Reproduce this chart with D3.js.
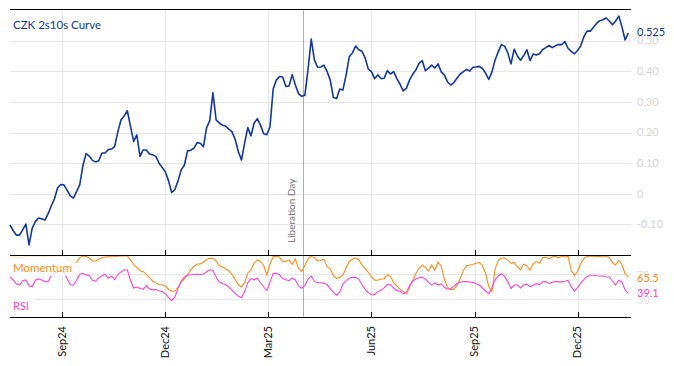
<!DOCTYPE html>
<html>
<head>
<meta charset="utf-8">
<script src="https://cdn.jsdelivr.net/npm/d3@7"></script>
<style>
  body { margin: 0; background: #fff; }
  svg { display: block; font-family: Lato, "Open Sans", sans-serif; }
</style>
</head>
<body>
<svg id="chart" width="674" height="366"></svg>
<script>
// observations every 2 business days, starting here
const startDate = "2024-07-17";
const obsStep = 2;

const curve = [
  -0.102, -0.120, -0.135, -0.135, -0.118, -0.099, -0.167, -0.113, -0.091, -0.079,
  -0.082, -0.086, -0.066, -0.040, -0.017, 0.019, 0.030, 0.029, 0.012, -0.007,
  -0.014, 0.007, 0.030, 0.092, 0.131, 0.123, 0.109, 0.104, 0.108, 0.133,
  0.133, 0.144, 0.146, 0.154, 0.202, 0.241, 0.254, 0.271, 0.220, 0.171,
  0.192, 0.122, 0.143, 0.143, 0.130, 0.127, 0.122, 0.100, 0.086, 0.071,
  0.042, 0.004, 0.014, 0.042, 0.078, 0.094, 0.140, 0.142, 0.149, 0.167,
  0.165, 0.154, 0.215, 0.239, 0.330, 0.241, 0.231, 0.224, 0.221, 0.211,
  0.203, 0.178, 0.138, 0.110, 0.166, 0.216, 0.189, 0.231, 0.245, 0.224,
  0.196, 0.193, 0.219, 0.342, 0.371, 0.383, 0.381, 0.350, 0.352, 0.389,
  0.355, 0.327, 0.318, 0.322, 0.407, 0.505, 0.437, 0.413, 0.414, 0.420,
  0.399, 0.371, 0.314, 0.311, 0.342, 0.339, 0.388, 0.447, 0.460, 0.482,
  0.470, 0.465, 0.444, 0.407, 0.399, 0.376, 0.388, 0.376, 0.377, 0.402,
  0.391, 0.399, 0.376, 0.358, 0.336, 0.344, 0.371, 0.390, 0.404, 0.426,
  0.435, 0.402, 0.410, 0.420, 0.411, 0.424, 0.398, 0.388, 0.365, 0.355,
  0.363, 0.378, 0.391, 0.399, 0.406, 0.401, 0.413, 0.414, 0.416, 0.409,
  0.394, 0.373, 0.398, 0.437, 0.464, 0.487, 0.482, 0.460, 0.424, 0.472,
  0.450, 0.436, 0.451, 0.470, 0.435, 0.456, 0.453, 0.457, 0.471, 0.477,
  0.484, 0.477, 0.483, 0.487, 0.487, 0.497, 0.475, 0.465, 0.457, 0.468,
  0.483, 0.513, 0.531, 0.531, 0.544, 0.556, 0.565, 0.568, 0.574, 0.564,
  0.552, 0.564, 0.580, 0.545, 0.502, 0.525
];

const momentum = [
  98.4, 98.4, 97.6, 95.6, 97.2, 99, 100, 99.7, 98.7, 100,
  100, 98.4, 100, 100, 100, 100, 100, 98.4, 96.4, 93.6,
  89.3, 89.4, 97.4, 100, 99.4, 96.7, 91.9, 91.9, 94.8, 97.1,
  98.4, 98.9, 98.9, 99.2, 99.7, 100, 100, 100, 94.2, 86.1,
  81.1, 76, 74.5, 70, 64.6, 59.4, 56.3, 53.6, 52.9, 51.4,
  46, 42.6, 43.1, 49.1, 57.6, 62.6, 69.8, 77.6, 83, 87,
  87, 89.8, 94.2, 96.2, 96.2, 91.9, 84.6, 82.1, 79.3, 76,
  70, 61.8, 53.6, 49.6, 56.7, 72.4, 77.3, 88.6, 93.6, 91.2,
  84.6, 69.2, 87, 99, 99.5, 98.1, 91.1, 91.1, 93.6, 86.5,
  95.1, 79.8, 74.7, 84.8, 95.1, 99.4, 97.1, 91.9, 92.6, 94.5,
  83, 78.8, 68.3, 63.7, 65, 69.2, 80.5, 91.1, 95.1, 96.7,
  93.9, 85.6, 79.8, 73.5, 65.9, 60.7, 60.5, 62.6, 63.1, 69.5,
  66.5, 56.7, 51.6, 45.7, 42.5, 38.7, 48.8, 59.4, 71.5, 80.5,
  84.9, 81.8, 75.6, 85.1, 77.3, 90.3, 83, 62.6, 48.8, 44.8,
  46.1, 52.6, 63.9, 76.6, 84.3, 85.4, 86.1, 88.1, 89.4, 84.6,
  71.9, 50, 42, 78.3, 93.2, 96.7, 96.7, 93.4, 88.1, 89.6,
  82.5, 77.6, 86.5, 84.1, 77.3, 87.3, 91.2, 87.8, 97.1, 98.2,
  95.8, 98.7, 99.5, 97.1, 99.9, 98.4, 99.2, 77.3, 68, 75.1,
  87.5, 96.1, 99, 99.9, 98.9, 99.2, 99.5, 98.4, 100, 97.6,
  89.4, 85.4, 92.7, 86.2, 70.7, 65.5
];

const rsi = [
  65.9, 61, 55, 52.8, 59.8, 61, 51.7, 49.9, 60.5, 62.8,
  61, 58.4, 58.2, 67.5, 72, 75, 76.7, 72.8, 62.9, 53.2,
  52.5, 60.7, 69.9, 71.9, 68.9, 68.8, 60.3, 59.2, 64.4, 68,
  70.6, 63.7, 67.2, 61.8, 69.8, 74.1, 77.2, 77.2, 60.2, 48,
  49.6, 47.5, 45.9, 52, 46.5, 45, 45.4, 43.4, 42.3, 38.9,
  32.7, 27.5, 33, 47.8, 59.3, 65.9, 69.1, 69.1, 69.8, 70.6,
  69.6, 70.7, 74.3, 77.7, 76.6, 65.9, 57.6, 55.3, 53.5, 49.6,
  44.4, 39.2, 34.5, 32, 42.1, 56.7, 63.3, 61.3, 63.9, 56.1,
  49.6, 43.9, 57.6, 71.4, 71.9, 69.4, 63.3, 61.5, 59.8, 64.2,
  61, 51.5, 47.5, 51.9, 62.6, 67.3, 58.7, 56.6, 56.6, 55.9,
  53.2, 46.8, 41, 36.3, 41.5, 54.3, 60, 63.7, 65.5, 64.9,
  62.4, 53.7, 45.7, 40.5, 37.1, 37.1, 42.1, 44.1, 48.6, 53.8,
  53, 48, 43.7, 42.6, 38.9, 40.8, 52, 59.3, 62.6, 64.7,
  65.4, 62.6, 57.1, 52.7, 56.4, 52.8, 54.6, 49.1, 45.9, 46.7,
  51.1, 55.3, 57.7, 58.5, 58.4, 57.7, 57.1, 55.4, 52.8, 48,
  43.1, 38.7, 48.8, 61.6, 67.5, 71.2, 66.3, 58.4, 47.2, 52.8,
  52.8, 48, 52.8, 54.3, 49.8, 52.4, 55, 53.5, 58, 58.4,
  55.4, 57.1, 58.9, 58, 58, 58.9, 60.5, 50.1, 42.8, 48.6,
  56.1, 61.6, 66.7, 68.6, 68.6, 67.8, 67.5, 67.5, 66.2, 65.9,
  59.3, 52.8, 60.5, 57.4, 44.7, 39.1
];

const curveTicks = [-0.1, 0, 0.1, 0.2, 0.3, 0.4, 0.5];
const oscTicks = [30, 70];
const monthTicks = ["2024-09", "2024-12", "2025-03", "2025-06", "2025-09", "2025-12"];
const events = [{ date: "2025-04-02", label: "Liberation Day" }];

const BLUE = "#1238a0", ORANGE = "#ff8c1a", PINK = "#ff45d6";

function parseDay(s) {
  const p = s.split("-").map(Number);
  return new Date(Date.UTC(p[0], p[1] - 1, p[2] || 1));
}
function isWeekday(d) {
  const w = d.getUTCDay();
  return w !== 0 && w !== 6;
}
// number of business days between the first observation and a date
function bdIndex(s) {
  const end = parseDay(s);
  let d = parseDay(startDate), n = 0;
  while (d < end) {
    if (isWeekday(d)) n++;
    d = new Date(d.getTime() + 864e5);
  }
  return n;
}

const svg = d3.select("#chart");
const left = 10, right = 631;
const mainTop = 9.5, mainBottom = 255, subBottom = 317;

const x = d3.scaleLinear().domain([0, (curve.length - 1) * obsStep]).range([left, 628.3]);
const y = d3.scaleLinear().domain([-0.2, 0.6]).range([mainBottom, 10]);
const y2 = d3.scaleLinear().domain([0, 100]).range([317.5, 256]);

const toPts = arr => arr.map((v, i) => ({ t: i * obsStep, v }));
const fmtMonth = d3.utcFormat("%b%y");
const monthPos = monthTicks.map(m => ({ x: x(bdIndex(m)), label: fmtMonth(parseDay(m)) }));

// grid
svg.append("g").selectAll("line").data(curveTicks).join("line")
  .attr("x1", left).attr("x2", right)
  .attr("y1", d => Math.round(y(d)) + 0.5).attr("y2", d => Math.round(y(d)) + 0.5)
  .attr("stroke", "#e6e6e6");
svg.append("g").selectAll("line").data(oscTicks).join("line")
  .attr("x1", left).attr("x2", right)
  .attr("y1", d => Math.round(y2(d)) + 0.5).attr("y2", d => Math.round(y2(d)) + 0.5)
  .attr("stroke", "#e6e6e6");
svg.append("g").selectAll("line").data(monthPos).join("line")
  .attr("x1", d => Math.round(d.x) + 0.5).attr("x2", d => Math.round(d.x) + 0.5)
  .attr("y1", mainTop).attr("y2", subBottom)
  .attr("stroke", "#e6e6e6");

// event marker
events.forEach(e => {
  const ex = Math.round(x(bdIndex(e.date))) + 0.5;
  svg.append("line").attr("x1", ex).attr("x2", ex).attr("y1", mainTop).attr("y2", subBottom)
    .attr("stroke", "#b0b0b0");
  svg.append("text").attr("transform", `translate(${ex - 9},243) rotate(-90)`)
    .attr("font-size", 10).attr("fill", "#777").text(e.label);
});

// lines
const mainLine = d3.line().x(d => x(d.t)).y(d => y(d.v));
const subLine = d3.line().x(d => x(d.t)).y(d => y2(d.v));
svg.append("path").datum(toPts(curve)).attr("d", mainLine)
  .attr("fill", "none").attr("stroke", BLUE).attr("stroke-width", 1.6).attr("stroke-linejoin", "round");
svg.append("path").datum(toPts(momentum)).attr("d", subLine)
  .attr("fill", "none").attr("stroke", ORANGE).attr("stroke-width", 1.1);
svg.append("path").datum(toPts(rsi)).attr("d", subLine)
  .attr("fill", "none").attr("stroke", PINK).attr("stroke-width", 1.1);

// frame
[mainTop, mainBottom + 0.5, subBottom + 0.5].forEach(yy => {
  svg.append("line").attr("x1", left).attr("x2", right).attr("y1", yy).attr("y2", yy)
    .attr("stroke", "#000").attr("stroke-width", 1.2);
});
[mainBottom, subBottom].forEach(yy => {
  svg.append("g").selectAll("line").data(monthPos).join("line")
    .attr("x1", d => Math.round(d.x) + 0.5).attr("x2", d => Math.round(d.x) + 0.5)
    .attr("y1", yy - 5).attr("y2", yy)
    .attr("stroke", "#000");
});

// x tick labels
svg.append("g").selectAll("text").data(monthPos).join("text")
  .attr("transform", d => `translate(${d.x},326) rotate(-90)`)
  .attr("text-anchor", "end").attr("dy", "0.35em")
  .attr("font-size", 11).attr("fill", "#111").text(d => d.label);

// right axis labels
svg.append("g").selectAll("text").data(curveTicks).join("text")
  .attr("x", 637).attr("y", d => y(d)).attr("dy", "0.35em")
  .attr("font-size", 11).attr("fill", "#d4d4d4")
  .text(d => d === 0 ? "0" : d.toFixed(2));
svg.append("g").selectAll("text").data(oscTicks).join("text")
  .attr("x", 637).attr("y", d => y2(d) + 1).attr("dy", "0.35em")
  .attr("font-size", 11).attr("fill", "#e2e2e2").text(d => d);

// last values
const lastLabel = (val, yy, col, txt) => svg.append("text").attr("x", 637).attr("y", yy)
  .attr("dy", "0.35em").attr("font-size", 11).attr("fill", col).text(txt);
lastLabel(curve[curve.length - 1], y(curve[curve.length - 1]) - 1, BLUE, d3.format(".3f")(curve[curve.length - 1]));
lastLabel(null, y2(momentum[momentum.length - 1]) + 1, ORANGE, momentum[momentum.length - 1].toFixed(1));
lastLabel(null, y2(rsi[rsi.length - 1]), PINK, rsi[rsi.length - 1].toFixed(1));

// titles with soft background
svg.append("rect").attr("x", left).attr("y", 256).attr("width", 66).attr("height", 20)
  .attr("fill", "#fff").attr("opacity", 0.8);
svg.append("rect").attr("x", left).attr("y", 296).attr("width", 24).attr("height", 20)
  .attr("fill", "#fff").attr("opacity", 0.8);
svg.append("text").attr("x", 13).attr("y", 29).attr("font-size", 11.5).attr("fill", BLUE).text("CZK 2s10s Curve");
svg.append("text").attr("x", 13).attr("y", 268).attr("dy", "0.35em").attr("font-size", 11.5).attr("fill", ORANGE).text("Momentum");
svg.append("text").attr("x", 13).attr("y", 306).attr("dy", "0.35em").attr("font-size", 11).attr("fill", PINK).text("RSI");
</script>
</body>
</html>
